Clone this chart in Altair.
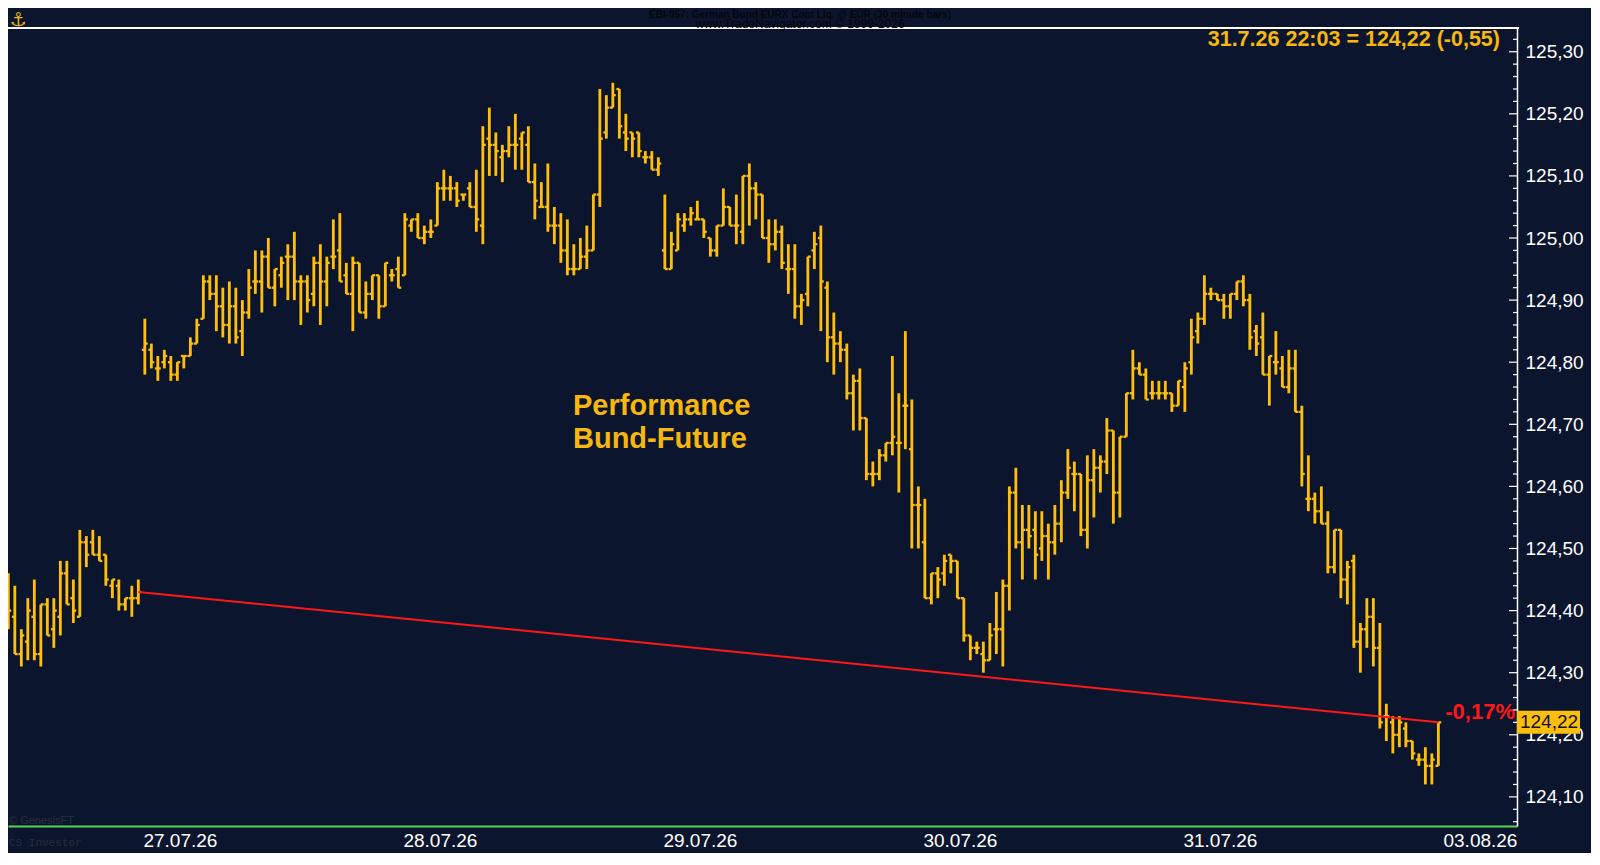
import altair as alt
import pandas as pd

# ---------------- data (30-minute bars) ----------------
opens = [124.38, 124.39, 124.33, 124.35, 124.39, 124.33, 124.41, 124.37, 124.39, 124.46,
         124.42, 124.39, 124.51, 124.51, 124.49, 124.49, 124.44, 124.44, 124.41, 124.42,
         124.42, 124.82, 124.82, 124.79, 124.80, 124.80, 124.78, 124.81, 124.81, 124.83,
         124.87, 124.93, 124.91, 124.89, 124.86, 124.89, 124.85, 124.88, 124.93, 124.93,
         124.97, 124.92, 124.94, 124.97, 124.97, 124.93, 124.93, 124.91, 124.96, 124.93,
         124.97, 124.98, 124.94, 124.91, 124.96, 124.88, 124.91, 124.94, 124.89, 124.94,
         124.95, 124.94, 125.02, 125.03, 125.00, 125.01, 125.02, 125.08, 125.08, 125.08,
         125.07, 125.08, 125.05, 125.02, 125.16, 125.15, 125.13, 125.14, 125.15, 125.16,
         125.15, 125.09, 125.05, 125.05, 125.02, 125.02, 124.98, 124.95, 124.95, 124.97,
         124.98, 125.07, 125.17, 125.21, 125.24, 125.17, 125.17, 125.17, 125.13, 125.13,
         125.11, 124.98, 124.95, 124.98, 125.02, 125.03, 125.03, 125.03, 125.00, 124.98,
         125.02, 125.05, 125.02, 125.01, 125.10, 125.08, 125.07, 125.00, 124.99, 125.01,
         124.95, 124.95, 124.89, 124.91, 124.98, 125.00, 124.92, 124.84, 124.83, 124.82,
         124.75, 124.77, 124.71, 124.62, 124.62, 124.65, 124.67, 124.67, 124.73, 124.66,
         124.57, 124.51, 124.42, 124.46, 124.46, 124.49, 124.48, 124.42, 124.36, 124.34,
         124.33, 124.32, 124.37, 124.37, 124.44, 124.59, 124.51, 124.53, 124.53, 124.50,
         124.52, 124.51, 124.54, 124.59, 124.62, 124.62, 124.53, 124.61, 124.63, 124.64,
         124.69, 124.59, 124.68, 124.75, 124.79, 124.78, 124.75, 124.75, 124.75, 124.75,
         124.73, 124.76, 124.80, 124.85, 124.87, 124.91, 124.91, 124.90, 124.89, 124.91,
         124.93, 124.90, 124.85, 124.84, 124.78, 124.80, 124.79, 124.76, 124.79, 124.72,
         124.58, 124.58, 124.56, 124.54, 124.47, 124.53, 124.45, 124.48, 124.35, 124.37,
         124.39, 124.34, 124.23, 124.22, 124.20, 124.21, 124.19, 124.16, 124.16, 124.15,
         124.15]
highs = [124.46, 124.44, 124.37, 124.42, 124.45, 124.41, 124.42, 124.42, 124.48, 124.48,
         124.45, 124.53, 124.52, 124.53, 124.52, 124.49, 124.45, 124.45, 124.42, 124.44,
         124.45, 124.87, 124.83, 124.81, 124.82, 124.81, 124.80, 124.81, 124.84, 124.87,
         124.94, 124.94, 124.94, 124.92, 124.93, 124.92, 124.90, 124.95, 124.98, 124.98,
         125.00, 124.95, 124.97, 124.99, 125.01, 124.94, 124.94, 124.97, 124.99, 124.97,
         125.03, 125.04, 124.96, 124.97, 124.96, 124.93, 124.94, 124.94, 124.96, 124.95,
         124.97, 125.04, 125.03, 125.04, 125.02, 125.03, 125.09, 125.11, 125.10, 125.09,
         125.07, 125.09, 125.11, 125.18, 125.21, 125.17, 125.15, 125.18, 125.20, 125.17,
         125.18, 125.12, 125.09, 125.12, 125.05, 125.04, 125.03, 124.99, 125.00, 125.02,
         125.07, 125.24, 125.23, 125.25, 125.24, 125.20, 125.17, 125.17, 125.14, 125.14,
         125.13, 125.07, 125.01, 125.04, 125.04, 125.05, 125.06, 125.03, 125.00, 125.02,
         125.08, 125.05, 125.07, 125.10, 125.12, 125.09, 125.07, 125.03, 125.03, 125.02,
         124.99, 124.99, 124.91, 124.97, 125.01, 125.02, 124.93, 124.88, 124.85, 124.83,
         124.78, 124.79, 124.71, 124.64, 124.66, 124.67, 124.81, 124.75, 124.85, 124.74,
         124.60, 124.58, 124.46, 124.47, 124.49, 124.49, 124.48, 124.42, 124.36, 124.35,
         124.35, 124.38, 124.43, 124.45, 124.60, 124.63, 124.57, 124.57, 124.56, 124.56,
         124.54, 124.57, 124.61, 124.66, 124.64, 124.62, 124.65, 124.66, 124.65, 124.71,
         124.69, 124.68, 124.75, 124.82, 124.80, 124.79, 124.77, 124.77, 124.77, 124.75,
         124.77, 124.80, 124.87, 124.88, 124.94, 124.92, 124.91, 124.91, 124.91, 124.93,
         124.94, 124.91, 124.86, 124.88, 124.81, 124.85, 124.81, 124.82, 124.82, 124.73,
         124.65, 124.59, 124.60, 124.56, 124.53, 124.53, 124.48, 124.49, 124.38, 124.42,
         124.42, 124.38, 124.25, 124.23, 124.23, 124.22, 124.19, 124.17, 124.18, 124.17,
         124.22]
lows = [124.37, 124.33, 124.31, 124.32, 124.32, 124.31, 124.36, 124.34, 124.36, 124.41,
        124.38, 124.39, 124.47, 124.49, 124.48, 124.44, 124.42, 124.40, 124.40, 124.39,
        124.41, 124.78, 124.79, 124.77, 124.79, 124.77, 124.77, 124.79, 124.81, 124.83,
        124.87, 124.90, 124.85, 124.84, 124.83, 124.83, 124.81, 124.87, 124.91, 124.88,
        124.92, 124.89, 124.92, 124.90, 124.90, 124.86, 124.88, 124.89, 124.86, 124.89,
        124.95, 124.93, 124.91, 124.85, 124.88, 124.87, 124.90, 124.87, 124.89, 124.93,
        124.92, 124.94, 125.01, 125.00, 124.99, 125.00, 125.02, 125.06, 125.06, 125.05,
        125.06, 125.05, 125.01, 124.99, 125.10, 125.10, 125.09, 125.13, 125.11, 125.11,
        125.09, 125.03, 125.05, 125.01, 124.99, 124.96, 124.94, 124.94, 124.95, 124.95,
        124.98, 125.05, 125.16, 125.21, 125.16, 125.14, 125.13, 125.13, 125.12, 125.11,
        125.10, 124.95, 124.95, 124.98, 125.01, 125.02, 125.03, 125.00, 124.97, 124.97,
        125.02, 125.02, 124.99, 124.99, 125.02, 125.03, 125.00, 124.96, 124.98, 124.95,
        124.91, 124.87, 124.86, 124.89, 124.95, 124.85, 124.80, 124.78, 124.80, 124.74,
        124.69, 124.69, 124.61, 124.60, 124.61, 124.64, 124.65, 124.59, 124.66, 124.50,
        124.50, 124.42, 124.41, 124.42, 124.44, 124.46, 124.42, 124.35, 124.32, 124.33,
        124.30, 124.32, 124.33, 124.31, 124.40, 124.50, 124.45, 124.50, 124.45, 124.48,
        124.45, 124.49, 124.51, 124.58, 124.56, 124.52, 124.50, 124.55, 124.59, 124.62,
        124.54, 124.55, 124.68, 124.74, 124.78, 124.74, 124.74, 124.74, 124.74, 124.72,
        124.73, 124.72, 124.78, 124.83, 124.86, 124.90, 124.90, 124.87, 124.87, 124.90,
        124.89, 124.82, 124.81, 124.78, 124.73, 124.78, 124.76, 124.75, 124.72, 124.60,
        124.56, 124.54, 124.54, 124.46, 124.46, 124.42, 124.41, 124.34, 124.30, 124.34,
        124.31, 124.21, 124.19, 124.17, 124.18, 124.18, 124.16, 124.15, 124.12, 124.12,
        124.15]
closes = [124.40, 124.33, 124.36, 124.40, 124.33, 124.41, 124.36, 124.40, 124.46, 124.41,
          124.40, 124.51, 124.49, 124.49, 124.48, 124.45, 124.45, 124.41, 124.42, 124.42,
          124.43, 124.83, 124.80, 124.79, 124.81, 124.78, 124.80, 124.81, 124.83, 124.86,
          124.93, 124.91, 124.89, 124.86, 124.89, 124.84, 124.88, 124.92, 124.93, 124.97,
          124.92, 124.95, 124.96, 124.97, 124.93, 124.93, 124.90, 124.96, 124.93, 124.96,
          124.97, 124.93, 124.91, 124.96, 124.88, 124.91, 124.94, 124.89, 124.96, 124.94,
          124.92, 125.03, 125.03, 125.00, 125.01, 125.01, 125.08, 125.08, 125.08, 125.06,
          125.07, 125.05, 125.03, 125.15, 125.15, 125.14, 125.14, 125.15, 125.15, 125.17,
          125.09, 125.06, 125.05, 125.02, 125.02, 124.98, 124.95, 124.95, 124.97, 124.98,
          125.07, 125.16, 125.21, 125.23, 125.18, 125.16, 125.16, 125.14, 125.13, 125.11,
          125.12, 124.95, 124.99, 125.03, 125.03, 125.04, 125.03, 125.01, 124.98, 125.02,
          125.05, 125.02, 125.02, 125.10, 125.08, 125.07, 125.00, 124.99, 125.01, 124.96,
          124.95, 124.89, 124.90, 124.97, 124.99, 124.93, 124.84, 124.83, 124.82, 124.75,
          124.77, 124.71, 124.62, 124.62, 124.65, 124.67, 124.68, 124.67, 124.73, 124.57,
          124.57, 124.42, 124.46, 124.45, 124.48, 124.48, 124.42, 124.36, 124.34, 124.34,
          124.32, 124.36, 124.37, 124.44, 124.59, 124.51, 124.53, 124.52, 124.49, 124.52,
          124.51, 124.54, 124.59, 124.63, 124.62, 124.53, 124.61, 124.63, 124.64, 124.69,
          124.59, 124.68, 124.75, 124.79, 124.78, 124.74, 124.75, 124.75, 124.75, 124.73,
          124.77, 124.79, 124.84, 124.87, 124.91, 124.91, 124.90, 124.89, 124.91, 124.93,
          124.90, 124.84, 124.83, 124.78, 124.81, 124.80, 124.76, 124.79, 124.72, 124.62,
          124.58, 124.56, 124.54, 124.47, 124.53, 124.45, 124.47, 124.35, 124.37, 124.39,
          124.34, 124.22, 124.23, 124.20, 124.22, 124.19, 124.17, 124.16, 124.15, 124.16,
          124.22]

day_labels = ["27.07.26", "28.07.26", "29.07.26", "30.07.26", "31.07.26", "03.08.26"]
day_positions = [26.4, 66.4, 106.4, 146.4, 186.4, 226.4]   # in bar-index units
price_labels = [124.1, 124.2, 124.3, 124.4, 124.5, 124.6, 124.7,
                124.8, 124.9, 125.0, 125.1, 125.2, 125.3]
perf_start = 20          # bar whose close starts the performance line
prev_day_close = 180     # last bar of the previous session
last_stamp = "31.7.26 22:03"
title_line1 = "EBI-057:  German Bund EURX Cont Liq. @ EUR  (30 minute bars)"
title_line2 = "www.TradeNavigator.com \u00a9 1999-2026"
perf_lines = ["Performance", "Bund-Future"]

# ---------------- styling ----------------
BG = "#0c152e"
BAR = "#fcbf10"
GOLD = "#f6b70f"
RED = "#ff1616"
FONT = "Liberation Sans"
W, H = 1509, 798
XDOM = [-0.05, 232.1]
YDOM = [124.0531, 125.3382]

n = len(closes)
df = pd.DataFrame({"i": list(range(n)), "o": opens, "h": highs, "l": lows, "c": closes})
df["il"] = df["i"] - 0.45
df["ir"] = df["i"] + 0.45

xs = alt.Scale(domain=XDOM, nice=False, zero=False)
ys = alt.Scale(domain=YDOM, nice=False, zero=False)

label_expr = "'" + day_labels[-1] + "'"
for pos, lab in reversed(list(zip(day_positions[:-1], day_labels[:-1]))):
    label_expr = f"datum.value < {pos + 1} ? '{lab}' : " + label_expr

x_axis = alt.Axis(values=day_positions, labelExpr=label_expr, grid=False, ticks=False,
                  domainColor="#55d655", domainWidth=2, labelColor="white", labelFont=FONT,
                  labelFontSize=19, labelPadding=5, labelFlush=False, labelOverlap=False,
                  title=None)
y_axis = alt.Axis(orient="right", values=price_labels,
                  labelExpr="replace(format(datum.value, '.2f'), '.', ',')",
                  grid=False, ticks=False, tickSize=0, domainColor="white", domainWidth=1.5,
                  labelColor="white", labelFont=FONT, labelFontSize=19, labelPadding=8,
                  labelOverlap=False, labelFlush=False, title=None)

base = alt.Chart(df)
halo = base.mark_rule(color="#000000", strokeWidth=4.6, opacity=0.5).encode(
    x=alt.X("i:Q", scale=xs, axis=x_axis),
    y=alt.Y("l:Q", scale=ys, axis=y_axis),
    y2="h:Q")
hl = base.mark_rule(color=BAR, strokeWidth=2.9).encode(
    x=alt.X("i:Q", scale=xs, title=None),
    y=alt.Y("l:Q", scale=ys, title=None),
    y2="h:Q")
op = base.mark_rule(color=BAR, strokeWidth=2.3).encode(
    x=alt.X("il:Q", scale=xs, title=None), x2="i:Q",
    y=alt.Y("o:Q", scale=ys, title=None))
cl = base.mark_rule(color=BAR, strokeWidth=2.3).encode(
    x=alt.X("i:Q", scale=xs, title=None), x2="ir:Q",
    y=alt.Y("c:Q", scale=ys, title=None))

# performance line
perf_df = pd.DataFrame({"i": [perf_start, n - 1], "p": [closes[perf_start], closes[-1]]})
perf = alt.Chart(perf_df).mark_line(color=RED, strokeWidth=2).encode(
    x=alt.X("i:Q", scale=xs, title=None), y=alt.Y("p:Q", scale=ys, title=None))

pct = (closes[-1] / closes[perf_start] - 1) * 100
pct_txt = f"{pct:+.2f}%".replace(".", ",").replace("+", "")
pct_mark = alt.Chart(pd.DataFrame({"t": [pct_txt]})).mark_text(
    align="right", baseline="middle", font=FONT, fontSize=22, fontWeight="bold",
    color=RED).encode(x=alt.value(1507), y=alt.value(684), text="t:N")

# right axis tick marks (major every 0.10, minor every 0.02)
minor_vals = [round(124.06 + 0.02 * k, 2) for k in range(64)]
tick_df = pd.DataFrame({"v": minor_vals,
                        "major": [abs(v * 10 - round(v * 10)) < 1e-6 for v in minor_vals]})
minor = alt.Chart(tick_df).transform_filter("!datum.major").mark_rule(
    color="white", strokeWidth=1.2).encode(
    x=alt.value(W - 4), x2=alt.value(W), y=alt.Y("v:Q", scale=ys, title=None))
major = alt.Chart(tick_df).transform_filter("datum.major").mark_rule(
    color="white", strokeWidth=1.2).encode(
    x=alt.value(W - 8), x2=alt.value(W), y=alt.Y("v:Q", scale=ys, title=None))

# last price box
box_df = pd.DataFrame({"c": [closes[-1]], "lo": [closes[-1] - 0.0185], "hi": [closes[-1] + 0.0185],
                       "t": [f"{closes[-1]:.2f}".replace(".", ",")]})
box = alt.Chart(box_df).mark_rect(color="#fcbf10").encode(
    x=alt.value(W), x2=alt.value(W + 63),
    y=alt.Y("lo:Q", scale=ys, title=None), y2="hi:Q")
box_txt = alt.Chart(box_df).mark_text(align="center", baseline="middle", font=FONT,
                                      fontSize=19, color="#111111").encode(
    x=alt.value(W + 32), y=alt.Y("c:Q", scale=ys, title=None), text="t:N")

# frame top line
top_line = alt.Chart(pd.DataFrame({"a": [0]})).mark_rule(color="white", strokeWidth=2).encode(
    x=alt.value(0), x2=alt.value(W + 2), y=alt.value(0))

# texts
chg = closes[-1] - closes[prev_day_close]
ann_txt = f"{last_stamp} = " + f"{closes[-1]:.2f} ({chg:+.2f})".replace(".", ",").replace("+", "")
ann = alt.Chart(pd.DataFrame({"t": [ann_txt]})).mark_text(
    align="right", baseline="middle", font=FONT, fontSize=21.5, fontWeight="bold",
    color=GOLD).encode(x=alt.value(1492), y=alt.value(12), text="t:N")

perf_t1 = alt.Chart(pd.DataFrame({"t": [perf_lines[0]]})).mark_text(
    align="left", baseline="alphabetic", font=FONT, fontSize=29, fontWeight="bold",
    color=GOLD).encode(x=alt.value(565), y=alt.value(387), text="t:N")
perf_t2 = alt.Chart(pd.DataFrame({"t": [perf_lines[1]]})).mark_text(
    align="left", baseline="alphabetic", font=FONT, fontSize=29, fontWeight="bold",
    color=GOLD).encode(x=alt.value(565), y=alt.value(420), text="t:N")

hdr1 = alt.Chart(pd.DataFrame({"t": [title_line1]})).mark_text(
    align="center", baseline="middle", font=FONT, fontSize=10, fontWeight="bold",
    color="#04060c").encode(x=alt.value(792), y=alt.value(-13.5), text="t:N")
hdr2 = alt.Chart(pd.DataFrame({"t": [title_line2]})).mark_text(
    align="center", baseline="middle", font=FONT, fontSize=12,
    color="#04060c").encode(x=alt.value(792), y=alt.value(-4), text="t:N")

logo = alt.Chart(pd.DataFrame({"t": ["\u2693"]})).mark_text(
    align="center", baseline="middle", font="DejaVu Sans", fontSize=19,
    color="#e8b90c").encode(x=alt.value(10), y=alt.value(-8), text="t:N")

foot1 = alt.Chart(pd.DataFrame({"t": ["\u00a9 GenesisFT"]})).mark_text(
    align="left", baseline="middle", font=FONT, fontSize=11, color="#2a2e3a").encode(
    x=alt.value(1), y=alt.value(793), text="t:N")
foot2 = alt.Chart(pd.DataFrame({"t": ["CS Investor"]})).mark_text(
    align="left", baseline="middle", font="Liberation Mono", fontSize=11,
    color="#2a2e3a").encode(x=alt.value(1), y=alt.value(815), text="t:N")

chart = alt.layer(
    halo, hl, op, cl, perf, minor, major, box, box_txt, top_line,
    pct_mark, ann, perf_t1, perf_t2, hdr1, hdr2, logo, foot1, foot2
).properties(
    width=W, height=H, background=BG,
    padding={"left": 0, "top": 20, "right": 74, "bottom": 27},
    autosize=alt.AutoSizeParams(type="none")
).configure(font=FONT).configure_view(stroke=None)

chart.save("out.html", embed_options={"renderer": "svg", "actions": False})
